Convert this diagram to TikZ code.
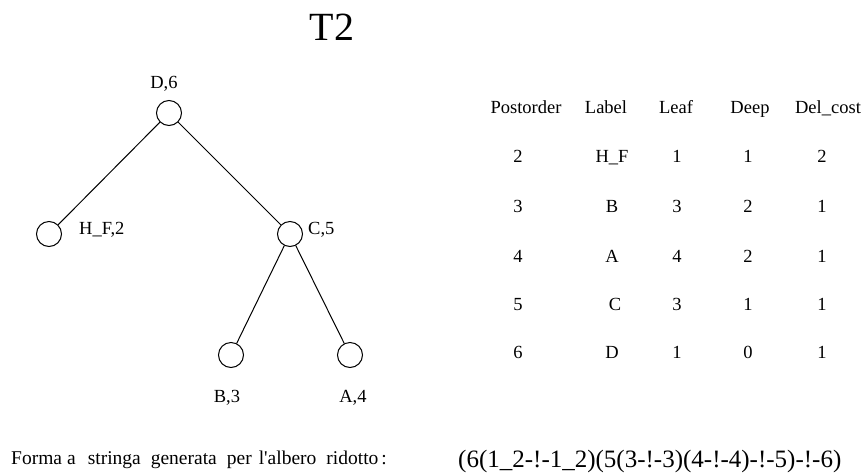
\documentclass[tikz,border=0pt]{standalone}
\usepackage{fontspec}
\setmainfont{Liberation Serif}
\newcommand{\fsz}[1]{\fontsize{#1}{#1}\selectfont}
\begin{document}
\begin{tikzpicture}[x=10pt,y=10pt]
\tikzstyle{every node}+=[inner sep=0pt]
\tikzstyle{vertex}=[draw,circle,minimum size=25pt,line width=1pt]
\tikzstyle{lbl}=[font=\fsz{18.5},anchor=base]
\useasboundingbox (0,0) rectangle (86.5,-47.2);
% title
\node [font=\fsz{40},anchor=base] (title) at (33.2,-4.0) {T2};
% tree
\node [vertex] (d) at (16.9,-11.3) {};
\node [vertex] (hf) at (4.9,-23.4) {};
\node [vertex] (c) at (29.0,-23.4) {};
\node [vertex] (b) at (23.1,-35.5) {};
\node [vertex] (a) at (35.0,-35.5) {};
\draw [line width=1pt] (d) -- (hf);
\draw [line width=1pt] (d) -- (c);
\draw [line width=1pt] (c) -- (b);
\draw [line width=1pt] (c) -- (a);
\node [lbl] (dname) at (16.4,-8.8) {D,6};
\node [lbl,anchor=base west] (hfname) at (7.9,-23.4) {H\_F,2};
\node [lbl,anchor=base west] (cname) at (30.8,-23.4) {C,5};
\node [lbl] (bname) at (22.7,-40.2) {B,3};
\node [lbl] (aname) at (35.3,-40.2) {A,4};
% table
\node [lbl] (hpost) at (52.6,-11.3) {Postorder};
\node [lbl] (hlab) at (60.6,-11.3) {Label};
\node [lbl] (hleaf) at (67.6,-11.3) {Leaf};
\node [lbl] (hdeep) at (75.0,-11.3) {Deep};
\node [lbl] (hcost) at (82.8,-11.3) {Del\_cost};
\node [lbl] (post2) at (51.8,-16.2) {2};
\node [lbl] (lab2) at (61.2,-16.2) {H\_F};
\node [lbl] (leaf2) at (67.7,-16.2) {1};
\node [lbl] (deep2) at (74.8,-16.2) {1};
\node [lbl] (cost2) at (82.2,-16.2) {2};
\node [lbl] (post3) at (51.8,-21.2) {3};
\node [lbl] (lab3) at (61.2,-21.2) {B};
\node [lbl] (leaf3) at (67.7,-21.2) {3};
\node [lbl] (deep3) at (74.8,-21.2) {2};
\node [lbl] (cost3) at (82.2,-21.2) {1};
\node [lbl] (post4) at (51.8,-26.2) {4};
\node [lbl] (lab4) at (61.2,-26.2) {A};
\node [lbl] (leaf4) at (67.7,-26.2) {4};
\node [lbl] (deep4) at (74.8,-26.2) {2};
\node [lbl] (cost4) at (82.2,-26.2) {1};
\node [lbl] (post5) at (51.8,-31.0) {5};
\node [lbl] (lab5) at (61.5,-31.0) {C};
\node [lbl] (leaf5) at (67.7,-31.0) {3};
\node [lbl] (deep5) at (74.8,-31.0) {1};
\node [lbl] (cost5) at (82.2,-31.0) {1};
\node [lbl] (post6) at (51.8,-35.8) {6};
\node [lbl] (lab6) at (61.2,-35.8) {D};
\node [lbl] (leaf6) at (67.7,-35.8) {1};
\node [lbl] (deep6) at (74.8,-35.8) {0};
\node [lbl] (cost6) at (82.2,-35.8) {1};
% string form
\node [font=\fsz{19.5},anchor=base west] (caption) at (1.1,-46.4)
  {Forma\hspace{5pt}a\hspace{12pt}stringa\hspace{10pt}generata\hspace{10pt}per\hspace{7pt}l\textquotesingle albero\hspace{10pt}ridotto\hspace{3pt}:};
\node [font=\fsz{25},anchor=base west] (code) at (45.8,-46.7)
  {(6(1\_2-!-1\_2)(5(3-!-3)(4-!-4)-!-5)-!-6)};
\end{tikzpicture}
\end{document}
